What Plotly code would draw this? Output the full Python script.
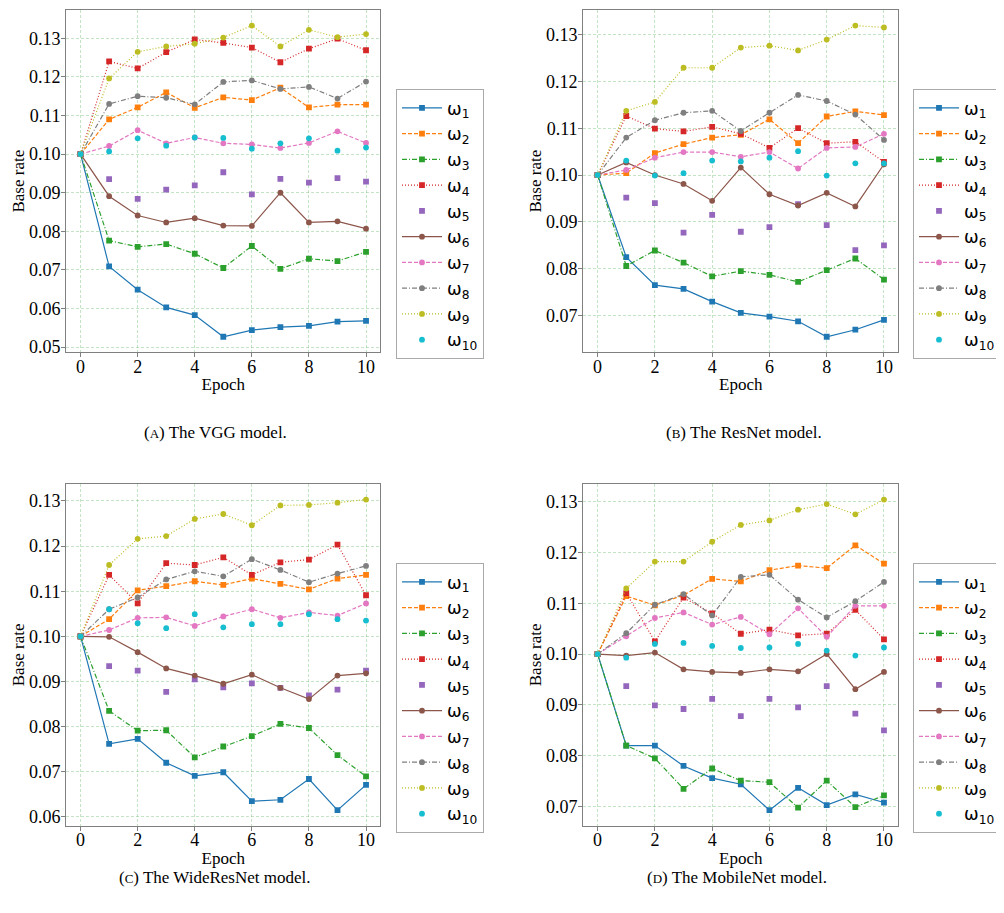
import plotly.graph_objects as go

epochs = [0, 1, 2, 3, 4, 5, 6, 7, 8, 9, 10]
series_names = ["ω<sub>%d</sub>" % k for k in range(1, 11)]
x_ticks = [0, 2, 4, 6, 8, 10]

# rows: omega_1 ... omega_10
vgg_rates = [
    [0.10, 0.0709, 0.0649, 0.0603, 0.0583, 0.0527, 0.0544, 0.0552, 0.0555, 0.0566, 0.0568],
    [0.10, 0.1090, 0.1121, 0.1160, 0.1120, 0.1147, 0.1140, 0.1172, 0.1121, 0.1128, 0.1128],
    [0.10, 0.0776, 0.0760, 0.0767, 0.0742, 0.0705, 0.0762, 0.0703, 0.0729, 0.0723, 0.0747],
    [0.10, 0.1240, 0.1222, 0.1264, 0.1297, 0.1288, 0.1276, 0.1238, 0.1273, 0.1299, 0.1269],
    [0.10, 0.0935, 0.0884, 0.0908, 0.0919, 0.0953, 0.0896, 0.0936, 0.0926, 0.0938, 0.0929],
    [0.10, 0.0891, 0.0841, 0.0823, 0.0834, 0.0815, 0.0814, 0.0900, 0.0823, 0.0826, 0.0807],
    [0.10, 0.1021, 0.1062, 0.1028, 0.1043, 0.1028, 0.1025, 0.1016, 0.1029, 0.1059, 0.1029],
    [0.10, 0.1130, 0.1150, 0.1146, 0.1129, 0.1187, 0.1191, 0.1169, 0.1174, 0.1144, 0.1188],
    [0.10, 0.1196, 0.1265, 0.1279, 0.1286, 0.1302, 0.1333, 0.1279, 0.1322, 0.1303, 0.1311],
    [0.10, 0.1007, 0.1041, 0.1022, 0.1043, 0.1042, 0.1014, 0.1028, 0.1041, 0.1009, 0.1017],
]
resnet_rates = [
    [0.10, 0.0825, 0.0765, 0.0757, 0.0730, 0.0706, 0.0698, 0.0688, 0.0655, 0.0670, 0.0691],
    [0.10, 0.1004, 0.1047, 0.1066, 0.1080, 0.1086, 0.1119, 0.1068, 0.1125, 0.1136, 0.1128],
    [0.10, 0.0806, 0.0839, 0.0813, 0.0784, 0.0795, 0.0787, 0.0772, 0.0797, 0.0822, 0.0777],
    [0.10, 0.1126, 0.1099, 0.1093, 0.1103, 0.1088, 0.1058, 0.1100, 0.1068, 0.1071, 0.1028],
    [0.10, 0.0952, 0.0940, 0.0877, 0.0915, 0.0879, 0.0889, 0.0938, 0.0893, 0.0840, 0.0850],
    [0.10, 0.1027, 0.1000, 0.0981, 0.0945, 0.1016, 0.0959, 0.0935, 0.0962, 0.0933, 0.1023],
    [0.10, 0.1011, 0.1037, 0.1049, 0.1049, 0.1039, 0.1049, 0.1014, 0.1058, 0.1060, 0.1088],
    [0.10, 0.1080, 0.1117, 0.1133, 0.1137, 0.1094, 0.1133, 0.1171, 0.1158, 0.1129, 0.1075],
    [0.10, 0.1137, 0.1156, 0.1229, 0.1229, 0.1272, 0.1276, 0.1266, 0.1289, 0.1319, 0.1315],
    [0.10, 0.1031, 0.0999, 0.1004, 0.1031, 0.1029, 0.1037, 0.1051, 0.0999, 0.1025, 0.1025],
]
wideresnet_rates = [
    [0.10, 0.0762, 0.0773, 0.0720, 0.0691, 0.0699, 0.0635, 0.0638, 0.0684, 0.0615, 0.0671],
    [0.10, 0.1038, 0.1102, 0.1111, 0.1122, 0.1114, 0.1128, 0.1116, 0.1104, 0.1128, 0.1136],
    [0.10, 0.0835, 0.0791, 0.0792, 0.0732, 0.0756, 0.0779, 0.0806, 0.0797, 0.0737, 0.0690],
    [0.10, 0.1136, 0.1073, 0.1162, 0.1158, 0.1175, 0.1136, 0.1164, 0.1170, 0.1203, 0.1091],
    [0.10, 0.0934, 0.0924, 0.0877, 0.0905, 0.0887, 0.0896, 0.0886, 0.0869, 0.0882, 0.0924],
    [0.10, 0.0999, 0.0965, 0.0929, 0.0913, 0.0895, 0.0915, 0.0886, 0.0861, 0.0913, 0.0918],
    [0.10, 0.1014, 0.1041, 0.1042, 0.1023, 0.1044, 0.1060, 0.1041, 0.1053, 0.1046, 0.1073],
    [0.10, 0.1060, 0.1086, 0.1126, 0.1144, 0.1133, 0.1171, 0.1147, 0.1120, 0.1139, 0.1156],
    [0.10, 0.1158, 0.1216, 0.1222, 0.1260, 0.1271, 0.1246, 0.1290, 0.1291, 0.1296, 0.1303],
    [0.10, 0.1060, 0.1029, 0.1018, 0.1049, 0.1020, 0.1027, 0.1027, 0.1049, 0.1038, 0.1035],
]
mobilenet_rates = [
    [0.10, 0.0820, 0.0820, 0.0780, 0.0756, 0.0744, 0.0693, 0.0737, 0.0703, 0.0724, 0.0708],
    [0.10, 0.1114, 0.1096, 0.1116, 0.1148, 0.1143, 0.1165, 0.1174, 0.1169, 0.1214, 0.1178],
    [0.10, 0.0820, 0.0795, 0.0735, 0.0775, 0.0751, 0.0748, 0.0698, 0.0751, 0.0699, 0.0722],
    [0.10, 0.1120, 0.1025, 0.1111, 0.1080, 0.1040, 0.1048, 0.1037, 0.1040, 0.1087, 0.1029],
    [0.10, 0.0937, 0.0899, 0.0892, 0.0912, 0.0878, 0.0912, 0.0895, 0.0937, 0.0883, 0.0850],
    [0.10, 0.0997, 0.1003, 0.0970, 0.0965, 0.0963, 0.0970, 0.0966, 0.1000, 0.0931, 0.0965],
    [0.10, 0.1035, 0.1071, 0.1082, 0.1058, 0.1073, 0.1039, 0.1090, 0.1034, 0.1095, 0.1095],
    [0.10, 0.1041, 0.1097, 0.1118, 0.1076, 0.1152, 0.1156, 0.1107, 0.1072, 0.1104, 0.1142],
    [0.10, 0.1129, 0.1182, 0.1182, 0.1221, 0.1254, 0.1263, 0.1284, 0.1295, 0.1275, 0.1304],
    [0.10, 0.0993, 0.1020, 0.1022, 0.1016, 0.1012, 0.1013, 0.1020, 0.1007, 0.0997, 0.1013],
]
y_ticks = [
    [0.05, 0.06, 0.07, 0.08, 0.09, 0.10, 0.11, 0.12, 0.13],
    [0.07, 0.08, 0.09, 0.10, 0.11, 0.12, 0.13],
    [0.06, 0.07, 0.08, 0.09, 0.10, 0.11, 0.12, 0.13],
    [0.07, 0.08, 0.09, 0.10, 0.11, 0.12, 0.13],
]
captions = [
    "(<span style='font-size:13px'>A</span>) The VGG model.",
    "(<span style='font-size:13px'>B</span>) The ResNet model.",
    "(<span style='font-size:13px'>C</span>) The WideResNet model.",
    "(<span style='font-size:13px'>D</span>) The MobileNet model.",
]

colors = ["#1f77b4", "#ff7f0e", "#2ca02c", "#d62728", "#9467bd",
          "#8c564b", "#e377c2", "#7f7f7f", "#bcbd22", "#17becf"]
dashes = ["solid", "4px,2px", "5px,2px,1px,2px", "1px,2px", None,
          "solid", "4px,2px", "5px,2px,1px,2px", "1px,2px", None]
symbols = ["square"] * 5 + ["circle"] * 5

W, H = 1004, 913
OFF = 8  # page body margin offset
panels = [
    dict(data=vgg_rates, x0=66.3, x1=380.3, y0=10, y1=352.3, leg=(396, 89), cap=(215, 432)),
    dict(data=resnet_rates, x0=583.3, x1=898.3, y0=10, y1=352.3, leg=(913, 89), cap=(744, 432)),
    dict(data=wideresnet_rates, x0=66.3, x1=380.3, y0=484, y1=825.7, leg=(396, 563), cap=(215, 877)),
    dict(data=mobilenet_rates, x0=583.3, x1=898.3, y0=484, y1=825.7, leg=(913, 563), cap=(737, 877)),
]


def px(s):
    return (s - OFF) / W


def py(s):
    return 1 - (s - OFF) / H


fig = go.Figure()
layout = dict(
    width=W, height=H,
    margin=dict(l=0, r=0, t=0, b=0, autoexpand=False),
    paper_bgcolor="white", plot_bgcolor="white",
    showlegend=True,
    annotations=[],
)

serif = "Liberation Serif"
for i, p in enumerate(panels):
    ax = "" if i == 0 else str(i + 1)
    legname = "legend" if i == 0 else "legend%d" % (i + 1)
    for k in range(10):
        mode = "markers" if dashes[k] is None else "lines+markers"
        fig.add_trace(go.Scatter(
            x=epochs, y=p["data"][k], mode=mode, name=series_names[k],
            line=dict(color=colors[k], width=1.2, dash=dashes[k] or "solid"),
            marker=dict(symbol=symbols[k], size=5.8, color=colors[k]),
            xaxis="x" + ax, yaxis="y" + ax, legend=legname,
        ))
    allv = [v for row in p["data"] for v in row]
    lo, hi = min(allv), max(allv)
    span = hi - lo
    axis_common = dict(
        showline=True, mirror=True, linecolor="#808080", linewidth=1.2,
        ticks="outside", tickcolor="#808080", ticklen=4, tickwidth=1,
        showgrid=True, gridcolor="rgba(60,170,60,0.3)", gridwidth=0.8,
        griddash="3px,2px", zeroline=False,
        tickfont=dict(family=serif, size=18, color="black"),
    )
    layout["xaxis" + ax] = dict(
        axis_common,
        domain=[px(p["x0"]), px(p["x1"])],
        anchor="y" + ax,
        range=[-0.5, 10.5], tickvals=x_ticks,
        ticklabelstandoff=-6,
        title=dict(text="Epoch", font=dict(family=serif, size=17, color="black"), standoff=2),
    )
    layout["yaxis" + ax] = dict(
        axis_common,
        domain=[py(p["y1"]), py(p["y0"])],
        anchor="x" + ax,
        range=[lo - 0.05 * span, hi + 0.05 * span],
        tickvals=y_ticks[i], tickformat=".2f",
        ticklabelstandoff=-3,
        title=dict(text="Base rate", font=dict(family=serif, size=17, color="black"), standoff=0),
    )
    layout[legname] = dict(
        x=px(p["leg"][0]), y=py(p["leg"][1]), xanchor="left", yanchor="top",
        bgcolor="white", bordercolor="#aaaaaa", borderwidth=1,
        font=dict(family="DejaVu Sans", size=17.5, color="black"),
        itemwidth=40, traceorder="normal",
    )
    layout["annotations"].append(dict(
        text=captions[i], x=px(p["cap"][0]), y=py(p["cap"][1]),
        xref="paper", yref="paper", xanchor="center", yanchor="middle",
        showarrow=False, font=dict(family=serif, size=17, color="black"),
    ))

fig.update_layout(**layout)
fig.write_html("out.html")
